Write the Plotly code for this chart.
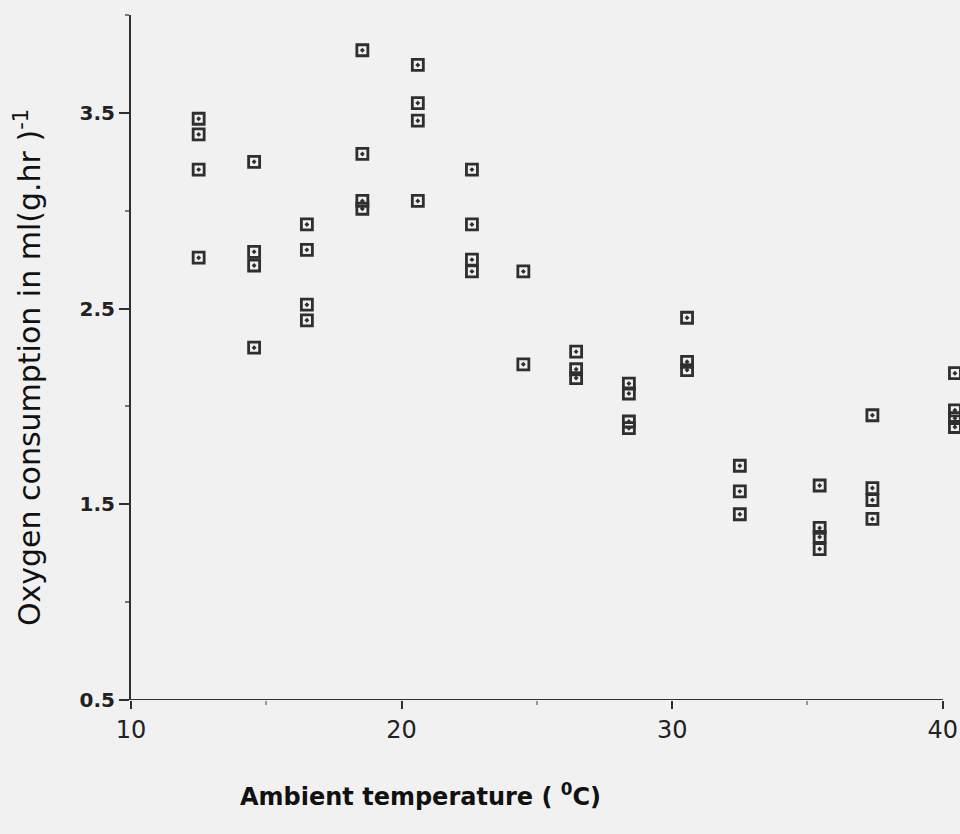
import plotly.graph_objects as go

# Ambient temperature (°C) for each measurement
temperature = [
    12.5, 12.5, 12.5, 12.5,
    14.55, 14.55, 14.55, 14.55,
    16.5, 16.5, 16.5, 16.5,
    18.55, 18.55, 18.55, 18.55,
    20.6, 20.6, 20.6, 20.6,
    22.6, 22.6, 22.6, 22.6,
    24.5, 24.5,
    26.45, 26.45, 26.45,
    28.4, 28.4, 28.4, 28.4,
    30.55, 30.55, 30.55,
    32.5, 32.5, 32.5,
    35.45, 35.45, 35.45, 35.45,
    37.4, 37.4, 37.4, 37.4,
    40.45, 40.45, 40.45, 40.45,
]

# Oxygen consumption ml (g.hr)^-1
oxygen = [
    3.47, 3.39, 3.21, 2.76,
    3.25, 2.79, 2.72, 2.30,
    2.93, 2.80, 2.52, 2.44,
    3.82, 3.29, 3.05, 3.01,
    3.745, 3.55, 3.46, 3.05,
    3.21, 2.93, 2.75, 2.69,
    2.69, 2.215,
    2.28, 2.19, 2.145,
    2.117, 2.066, 1.923, 1.889,
    2.453, 2.228, 2.186,
    1.697, 1.566, 1.449,
    1.596, 1.379, 1.333, 1.271,
    1.955, 1.583, 1.522, 1.425,
    2.17, 1.98, 1.94, 1.895,
]

x_ticks = [10, 20, 30, 40]
x_axis_span = [10, 40]
y_ticks = [0.5, 1.5, 2.5, 3.5]
y_tick_text = ["0.5", "1.5", "2.5", "3.5"]

x_title = "Ambient temperature ( <sup>0</sup>C)"
y_title = "Oxygen consumption in ml(g.hr )<sup>-1</sup>"

ink = "#2f2f2f"
bg = "#f1f1f1"

fig = go.Figure()
fig.add_trace(go.Scatter(
    x=temperature, y=oxygen, mode="markers",
    marker=dict(symbol="square-open-dot", size=11, color=ink,
                line=dict(width=2.8, color=ink)),
    cliponaxis=False, showlegend=False,
))

# x axis line runs only from 10 to 40 (the data run a little past 40)
fig.add_shape(type="line", xref="x", yref="y",
              x0=x_axis_span[0], x1=x_axis_span[1], y0=0.5, y1=0.5,
              line=dict(color=ink, width=2.2), layer="below")

fig.update_layout(
    width=960, height=834,
    margin=dict(l=131, r=1, t=15, b=134),
    paper_bgcolor=bg, plot_bgcolor=bg,
    font=dict(family="DejaVu Sans", color="#222"),
    xaxis=dict(
        range=[10, 40.6], tickvals=x_ticks, ticktext=[str(v) for v in x_ticks],
        showgrid=False, zeroline=False, showline=False,
        ticks="outside", ticklen=8, tickwidth=2, tickcolor=ink,
        minor=dict(ticks="outside", tickvals=[15, 25, 35], ticklen=4, tickwidth=1.5, tickcolor="#999"),
        tickfont=dict(family="DejaVu Sans", size=24, color="#222"),
    ),
    yaxis=dict(
        range=[0.5, 4.0], tickvals=y_ticks, ticktext=y_tick_text,
        showgrid=False, zeroline=False,
        showline=True, linecolor=ink, linewidth=2,
        ticks="outside", ticklen=10, tickwidth=2, tickcolor=ink,
        minor=dict(ticks="outside", tickvals=[1.0, 2.0, 3.0, 4.0], ticklen=4, tickwidth=1.5, tickcolor="#777"),
        tickfont=dict(family="DejaVu Sans", size=20, weight="bold", color="#222"),
    ),
    annotations=[
        dict(text=x_title, xref="paper", yref="paper", x=0.350, y=-0.139,
             xanchor="center", yanchor="middle", showarrow=False,
             font=dict(family="DejaVu Sans", size=24, weight="bold", color="#111")),
        dict(text=y_title, xref="paper", yref="paper", x=-0.124, y=0.485,
             xanchor="center", yanchor="middle", textangle=-90, showarrow=False,
             font=dict(family="DejaVu Sans", size=30, color="#111")),
    ],
)

fig.write_html("out.html")
